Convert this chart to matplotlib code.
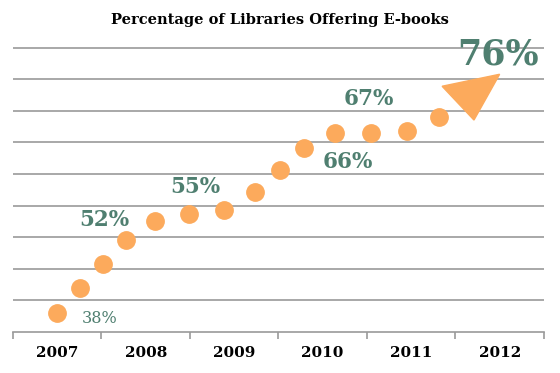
import matplotlib.pyplot as plt


# DADOS DO GRÁFICO

anos = ["2007", "2008", "2009", "2010", "2011", "2012"]

# pontos da trilha (posição no eixo de anos, nível em linhas de grade)
trilha_x = [0.50, 0.76, 1.02, 1.28, 1.60, 1.99, 2.39,
            2.73, 3.02, 3.29, 3.64, 4.05, 4.45, 4.81]
trilha_y = [0.60, 1.39, 2.15, 2.91, 3.51, 3.73, 3.86,
            4.43, 5.13, 5.82, 6.30, 6.30, 6.36, 6.80]

# ponta da seta
seta_x = [4.85, 5.50, 5.21]
seta_y = [7.78, 8.16, 6.71]

percentuais = ["38%", "52%", "55%", "66%", "67%", "76%"]
rotulo_x = [0.98, 1.03, 2.06, 3.78, 4.02, 5.48]
rotulo_y = [0.44, 3.54, 4.59, 5.38, 7.37, 8.77]
rotulo_tam = [11.5, 15.5, 15.5, 15.5, 15.5, 25]
rotulo_peso = ["normal", "bold", "bold", "bold", "bold", "bold"]


# CORES

laranja = "#FCAA5C"
verde = "#4F7F70"
cinza = "#9A9A9A"


# FIGURA

fig = plt.figure(figsize=(5.6, 3.73), dpi=100)
ax = fig.add_axes([0.0232, 0.110, 0.948, 0.779])

ax.set_xlim(0, 6)
ax.set_ylim(0, 9.2)

# linhas de grade
for nivel in range(1, 10):
    ax.axhline(nivel, color=cinza, linewidth=1.2, zorder=1)

# trilha de pontos
ax.plot(
    trilha_x,
    trilha_y,
    linestyle="none",
    marker="o",
    markersize=12.5,
    color=laranja,
    zorder=3
)

# seta
ax.fill(seta_x, seta_y, color=laranja, zorder=3)

# rótulos de percentual
for i in range(len(percentuais)):
    ax.text(
        rotulo_x[i],
        rotulo_y[i],
        percentuais[i],
        fontsize=rotulo_tam[i],
        fontweight=rotulo_peso[i],
        family="DejaVu Serif",
        color=verde,
        ha="center",
        va="center",
        zorder=4
    )

# eixos
for lado in ["top", "right", "left"]:
    ax.spines[lado].set_visible(False)

ax.spines["bottom"].set_color(cinza)
ax.spines["bottom"].set_linewidth(1.2)

ax.set_yticks([])

ax.set_xticks([i + 0.5 for i in range(len(anos))])
ax.set_xticklabels(
    anos,
    fontsize=11,
    fontweight="bold",
    family="DejaVu Serif"
)
ax.tick_params(axis="x", which="major", length=0, pad=10)

ax.set_xticks(range(len(anos) + 1), minor=True)
ax.tick_params(axis="x", which="minor", length=5,
               color=cinza, width=1.2)

fig.text(
    0.5,
    0.946,
    "Percentage of Libraries Offering E-books",
    fontsize=10.5,
    fontweight="bold",
    family="DejaVu Serif",
    ha="center",
    va="center"
)

fig.savefig("out.png", dpi=100)
